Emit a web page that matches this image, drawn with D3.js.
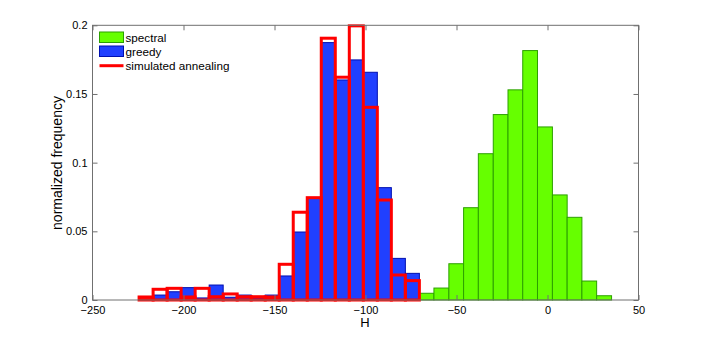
<!DOCTYPE html>
<html><head><meta charset="utf-8">
<script src="https://cdn.jsdelivr.net/npm/d3@7"></script>
<style>
html,body{margin:0;padding:0;background:#fff;}
svg text{font-family:"Liberation Sans",Arial,Helvetica,sans-serif;fill:#000;}
</style></head>
<body><svg id="c" width="706" height="338"></svg>
<script>
// ---- data ----
const saEdges = [-224.4,-216.7,-209.0,-201.3,-193.6,-185.9,-178.2,-170.5,-162.8,-155.1,-147.4,-139.7,-132.0,-124.3,-116.6,-108.9,-101.2,-93.5,-85.8,-78.1,-70.4];
const greedyValues = [0,0.0036,0.006,0.009,0.0015,0.0109,0.002,0.0036,0.0015,0.0036,0.0175,0.0495,0.0745,0.1874,0.1602,0.1748,0.1658,0.0818,0.0303,0.0194];
const annealValues = [0.0022,0.0078,0.0085,0.0022,0.0085,0.0024,0.0044,0.0024,0.0024,0.0022,0.026,0.0639,0.0745,0.1906,0.1622,0.1996,0.1403,0.0728,0.0182,0.0141];
const spectralEdges = [-70.5,-62.4,-54.2,-46.1,-38.0,-29.8,-21.7,-13.6,-5.5,2.7,10.8,18.9,27.0,35.2];
const spectralValues = [0.0049,0.0087,0.0264,0.0672,0.1065,0.135,0.153,0.1816,0.126,0.0765,0.0602,0.0138,0.0031];
const xTicks = [-250,-200,-150,-100,-50,0,50];
const yTicks = [0,0.05,0.1,0.15,0.2];
const legendLabels = ["spectral","greedy","simulated annealing"];

// ---- drawing ----
const svg = d3.select("#c");
const L=92.5, R=638.5, T=25.3, B=300;
const x = d3.scaleLinear().domain([-250,50]).range([L,R]);
const y = d3.scaleLinear().domain([0,0.2]).range([B,T]);

const toBins = (edges, vals) => vals.map((v,i)=>({x0:edges[i], x1:edges[i+1], v}));

const plot = svg.append("g");
// spectral
plot.selectAll("rect.sp").data(toBins(spectralEdges, spectralValues)).enter().append("rect")
  .attr("x", d=>x(d.x0)).attr("width", d=>x(d.x1)-x(d.x0))
  .attr("y", d=>y(d.v)).attr("height", d=>y(0)-y(d.v))
  .attr("fill","#66ff00").attr("stroke","#2ca000").attr("stroke-width",1);
// greedy
plot.selectAll("rect.gr").data(toBins(saEdges, greedyValues).filter(d=>d.v>0)).enter().append("rect")
  .attr("x", d=>x(d.x0)).attr("width", d=>x(d.x1)-x(d.x0))
  .attr("y", d=>y(d.v)).attr("height", d=>y(0)-y(d.v))
  .attr("fill","#2040ff").attr("stroke","#0010b0").attr("stroke-width",1);
// simulated annealing
plot.selectAll("rect.sa").data(toBins(saEdges, annealValues)).enter().append("rect")
  .attr("x", d=>x(d.x0)).attr("width", d=>x(d.x1)-x(d.x0))
  .attr("y", d=>y(d.v)).attr("height", d=>y(0)-y(d.v))
  .attr("fill","none").attr("stroke","#ff0000").attr("stroke-width",3);

// axes box
const ax = "#707070";
svg.append("rect").attr("x",L).attr("y",T).attr("width",R-L).attr("height",B-T)
  .attr("fill","none").attr("stroke",ax).attr("stroke-width",1);
const xb = d3.axisBottom(x).tickValues(xTicks).tickSizeInner(-5).tickSizeOuter(0)
  .tickFormat(d=>d<0?"\u2212"+Math.abs(d):String(d)).tickPadding(6);
const gx = svg.append("g").attr("transform",`translate(0,${B})`).call(xb);
const xt = d3.axisTop(x).tickValues(xTicks).tickSizeInner(-5).tickSizeOuter(0).tickFormat("");
const gxt = svg.append("g").attr("transform",`translate(0,${T})`).call(xt);
const yl = d3.axisLeft(y).tickValues(yTicks).tickSizeInner(-5).tickSizeOuter(0)
  .tickFormat(d=>String(d)).tickPadding(5);
const gy = svg.append("g").attr("transform",`translate(${L},0)`).call(yl);
const yr = d3.axisRight(y).tickValues(yTicks).tickSizeInner(-5).tickSizeOuter(0).tickFormat("");
const gyr = svg.append("g").attr("transform",`translate(${R},0)`).call(yr);
[gx,gxt,gy,gyr].forEach(g=>{
  g.select(".domain").remove();
  g.selectAll("line").attr("stroke",ax);
  g.selectAll("text").style("font-size","11px").attr("fill","#000");
});

// labels
svg.append("text").attr("x",365).attr("y",327).attr("text-anchor","middle")
  .style("font-size","13px").text("H");
svg.append("text").attr("transform","translate(61.5,163) rotate(-90)").attr("text-anchor","middle")
  .style("font-size","14px").text("normalized frequency");

// legend
const lg = svg.append("g");
const lx0 = 99.5, lw = 24;
lg.append("rect").attr("x",lx0).attr("y",32).attr("width",lw).attr("height",10.5)
  .attr("fill","#66ff00").attr("stroke","#2ca000");
lg.append("rect").attr("x",lx0).attr("y",46).attr("width",lw).attr("height",10.5)
  .attr("fill","#2040ff").attr("stroke","#0010b0");
lg.append("line").attr("x1",lx0).attr("x2",lx0+lw).attr("y1",65.7).attr("y2",65.7)
  .attr("stroke","#ff0000").attr("stroke-width",3);
const ly = [37.5,51.5,65.7];
legendLabels.forEach((t,i)=>{
  lg.append("text").attr("x",125.5).attr("y",ly[i]).attr("dy","0.35em")
    .style("font-size","11.7px").text(t);
});
</script></body></html>
